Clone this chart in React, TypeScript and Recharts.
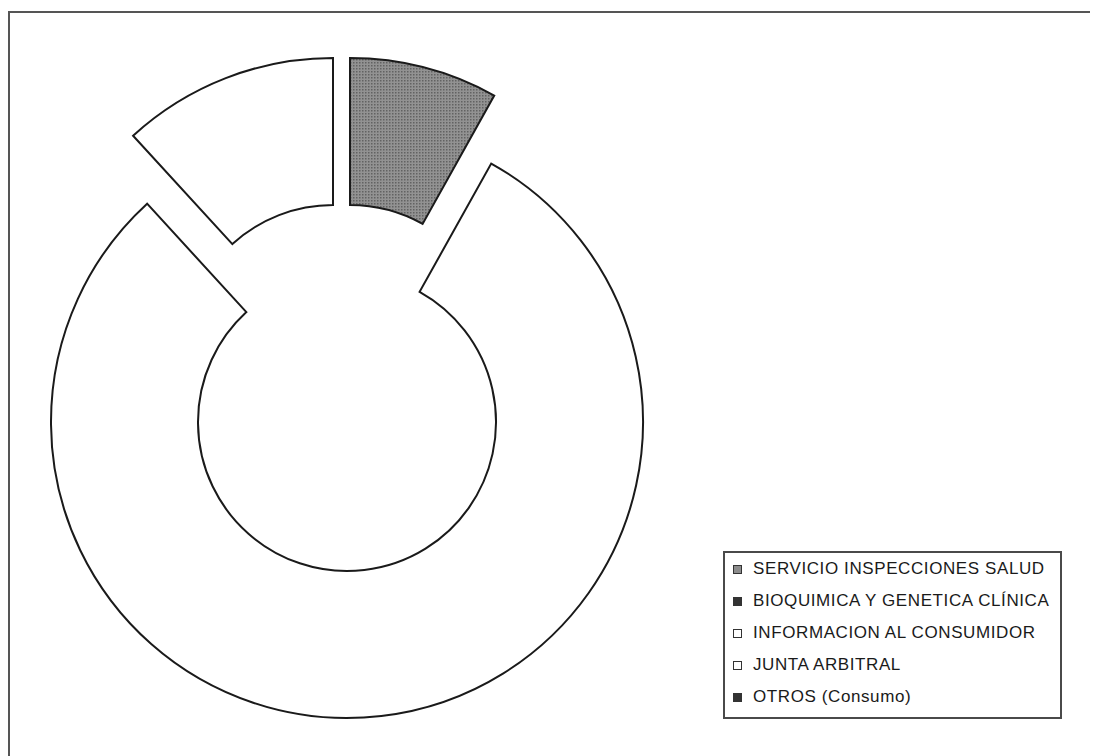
import { PieChart, Pie, Cell, Sector, Legend } from 'recharts'

const areaNames = [
  'SERVICIO INSPECCIONES SALUD',
  'BIOQUIMICA Y GENETICA CLÍNICA',
  'INFORMACION AL CONSUMIDOR',
  'JUNTA ARBITRAL',
  'OTROS (Consumo)',
]
const areaShares = [8.1, 0, 80.1, 11.8, 0]

const FILLS = ['url(#dots)', '#333333', '#ffffff', '#ffffff', '#333333']
const SWATCH = ['#8c8c8c', '#333333', '#ffffff', '#ffffff', '#333333']
// pulled-out slices (offset of their centre, px)
const OFFSETS: Record<number, [number, number]> = {
  0: [3, -68],
  3: [-14, -68],
}

const chartData = areaNames.map((name, i) => ({ name, value: areaShares[i] }))

function SliceShape(props: any) {
  if (!props.value) return <g />
  const [dx, dy] = OFFSETS[props.index] ?? [0, 0]
  return (
    <Sector
      cx={props.cx + dx}
      cy={props.cy + dy}
      innerRadius={props.innerRadius}
      outerRadius={props.outerRadius}
      startAngle={props.startAngle}
      endAngle={props.endAngle}
      fill={props.fill}
      stroke="#1a1a1a"
      strokeWidth={2}
      strokeLinejoin="miter"
    />
  )
}

function LegendBox() {
  return (
    <div
      style={{
        width: 327,
        border: '2px solid #4a4a4a',
        padding: '0 0 4px 8px',
        background: '#fff',
        fontFamily: '"Liberation Sans", Arial, sans-serif',
        fontSize: 17,
        letterSpacing: 0.6,
        color: '#1a1a1a',
      }}
    >
      {areaNames.map((name, i) => (
        <div key={name} style={{ display: 'flex', alignItems: 'center', height: 32 }}>
          <span
            style={{
              width: 7,
              height: 7,
              background: SWATCH[i],
              border: '1.5px solid #333',
              marginRight: 11,
              flexShrink: 0,
            }}
          />
          <span style={{ whiteSpace: 'nowrap' }}>{name}</span>
        </div>
      ))}
    </div>
  )
}

export default function App() {
  return (
    <div style={{ position: 'relative', width: 1090, height: 748 }}>
      <div
        style={{
          position: 'absolute',
          left: 0,
          top: 3,
          width: 1100,
          height: 760,
          borderTop: '2px solid #555',
          borderLeft: '2px solid #555',
        }}
      />
      <PieChart
        width={1090}
        height={748}
        margin={{ top: 0, right: 0, bottom: 0, left: 0 }}
        style={{ position: 'absolute', left: 0, top: 0 }}
      >
        <defs>
          <pattern id="dots" width="3" height="3" patternUnits="userSpaceOnUse">
            <rect width="3" height="3" fill="#929292" />
            <rect width="1.5" height="1.5" fill="#626262" />
          </pattern>
        </defs>
        <Pie
          data={chartData}
          dataKey="value"
          nameKey="name"
          cx={339}
          cy={414}
          innerRadius={149}
          outerRadius={296}
          startAngle={90}
          endAngle={-270}
          paddingAngle={0}
          shape={SliceShape}
          isAnimationActive={false}
          label={false}
          labelLine={false}
        >
          {chartData.map((entry, index) => (
            <Cell key={`cell-${index}`} fill={FILLS[index]} />
          ))}
        </Pie>
        <Legend
          content={() => <LegendBox />}
          wrapperStyle={{ position: 'absolute', left: 715, top: 543, width: 'auto' }}
        />
      </PieChart>
    </div>
  )
}
